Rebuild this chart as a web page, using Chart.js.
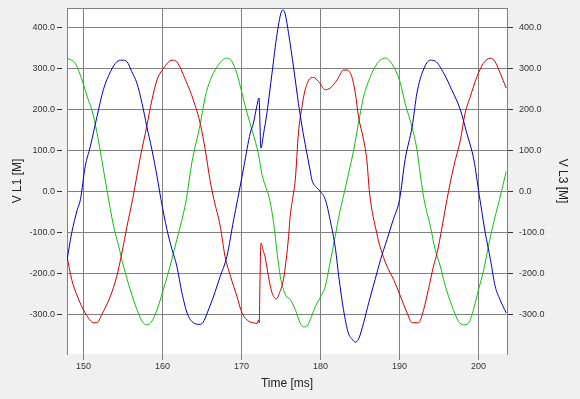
<!DOCTYPE html>
<html>
<head>
<meta charset="utf-8">
<script src="https://cdn.jsdelivr.net/npm/chart.js@4.4.1/dist/chart.umd.min.js"></script>
<style>
  html, body { margin: 0; padding: 0; background: #f0f0f0; }
  #wrap { width: 580px; height: 399px; }
</style>
</head>
<body>
<div id="wrap"><canvas id="scope" width="580" height="399"></canvas></div>
<script>
// Axis ranges and ticks
const timeRange = [147.9, 203.6];
const voltRange = [-395, 447];
const timeTicks = [150, 160, 170, 180, 190, 200];
const voltTicks = [-300, -200, -100, 0, 100, 200, 300, 400];

// Trace samples: [time ms, volts]
const traceBlue = [
  [147.9, -167], [148.5, -100], [149.2, -44], [149.6, -19], [150.2, 61], [150.85, 110],
  [151.7, 183], [152.5, 248], [153.4, 292], [154.2, 316], [154.85, 320], [155.5, 316],
  [156.1, 292], [156.75, 264], [157.4, 215], [158.0, 159], [158.65, 102], [159.3, 37],
  [159.8, -19], [160.55, -92], [161.2, -141], [161.8, -181], [162.45, -246], [163.1, -295],
  [163.9, -319], [164.8, -323], [166.0, -278], [167.3, -206], [168.15, -157], [169.0, -68],
  [169.5, -19], [170.3, 62], [171.1, 143], [171.5, 167], [171.95, 210], [172.2, 228],
  [172.45, 106], [172.8, 143], [173.2, 190], [173.85, 288], [174.5, 385], [175.1, 440],
  [175.3, 442], [175.55, 430], [175.95, 385], [176.6, 300], [177.2, 215], [177.65, 159],
  [178.2, 100], [178.6, 60], [178.9, 29], [179.5, 10], [180.0, 0], [180.6, -19],
  [181.2, -68], [181.9, -141], [182.3, -206], [182.9, -287], [183.5, -343], [184.0, -359],
  [184.4, -366], [184.8, -359], [185.45, -319], [186.1, -270], [186.9, -214], [187.6, -165],
  [188.4, -117], [189.2, -68], [190.0, -19], [190.7, 78], [191.6, 159], [192.2, 240],
  [193.0, 296], [193.9, 320], [194.5, 318], [195.6, 288], [196.6, 248], [197.7, 199],
  [198.5, 143], [199.4, 78], [200.1, -10], [200.85, -100], [201.5, -165], [202.1, -230],
  [202.7, -262], [203.5, -295]
];

const traceRed = [
  [147.9, -157], [148.5, -214], [149.2, -254], [150.2, -295], [151.3, -319], [151.7, -319],
  [152.3, -299], [153.4, -254], [154.2, -206], [154.85, -149], [155.5, -84], [156.2, -19],
  [157.2, 86], [158.0, 159], [158.65, 223], [159.3, 272], [160.1, 300], [161.2, 320],
  [161.8, 316], [162.9, 272], [163.9, 223], [164.8, 163], [165.4, 102], [166.0, 29],
  [166.5, -19], [167.3, -84], [167.9, -157], [168.6, -206], [169.4, -254], [170.05, -295],
  [170.9, -315], [171.5, -319], [171.95, -321], [172.15, -312], [172.25, -319], [172.3, -250],
  [172.46, -125], [172.7, -141], [173.0, -161], [173.4, -206], [173.85, -246], [174.4, -261],
  [174.8, -246], [175.3, -214], [175.65, -165], [175.95, -109], [176.15, -60], [176.45, -19],
  [176.8, 29], [177.2, 143], [177.65, 207], [178.05, 248], [178.7, 276], [179.1, 278],
  [179.75, 268], [180.6, 248], [181.2, 252], [182.1, 272], [182.9, 296], [183.35, 296],
  [183.95, 280], [184.4, 240], [184.8, 183], [185.45, 126], [185.85, 78], [186.2, -3],
  [187.1, -100], [187.55, -135], [188.4, -181], [189.25, -214], [190.1, -254], [190.95, -295],
  [191.6, -319], [192.4, -319], [193.05, -287], [193.65, -238], [194.3, -181], [194.75, -149],
  [195.4, -84], [196.0, -19], [196.85, 61], [197.7, 126], [198.3, 191], [198.95, 231],
  [199.8, 280], [200.6, 312], [201.5, 325], [202.1, 316], [202.75, 288], [203.5, 252]
];

const traceGreen = [
  [147.9, 325], [148.95, 312], [149.8, 272], [150.6, 223], [151.05, 199], [151.7, 143],
  [152.3, 78], [152.95, 5], [153.8, -84], [154.45, -133], [155.05, -181], [155.9, -238],
  [156.75, -287], [157.4, -315], [158.0, -324], [158.65, -315], [159.3, -287], [160.1, -238],
  [160.95, -181], [161.8, -117], [162.65, -52], [163.0, -19], [163.7, 70], [164.75, 163],
  [165.4, 231], [166.05, 272], [166.9, 304], [167.7, 322], [168.2, 325], [168.8, 316],
  [169.4, 288], [170.05, 240], [170.7, 191], [171.4, 145], [172.15, 90], [172.6, 40],
  [173.0, 15], [173.5, -15], [174.05, -75], [174.5, -149], [174.9, -206], [175.3, -238],
  [175.65, -254], [176.15, -262], [176.8, -287], [177.4, -319], [177.85, -329], [178.3, -327],
  [178.7, -311], [179.35, -279], [179.95, -258], [180.6, -230], [181.2, -173], [181.85, -109],
  [182.4, -52], [182.8, -19], [183.55, 45], [184.2, 102], [184.8, 167], [185.45, 231],
  [186.3, 280], [187.15, 312], [187.55, 320], [188.2, 325], [189.25, 304], [190.1, 264],
  [190.7, 215], [191.55, 159], [192.2, 102], [192.6, 45], [193.1, -19], [193.9, -84],
  [194.5, -141], [195.15, -181], [195.8, -230], [196.65, -279], [197.45, -315], [198.1, -324],
  [198.75, -319], [199.35, -287], [200.0, -238], [200.65, -190], [201.25, -133], [201.9, -76],
  [202.65, -19], [203.5, 49]
];

const FONT = 'Liberation Sans, Arial, sans-serif';
const GRID = '#808080';

// grey window + white plot area, top edge of the plot frame
const scopeFrame = {
  id: 'scopeFrame',
  beforeDraw(chart) {
    const { ctx, chartArea: a } = chart;
    ctx.save();
    ctx.fillStyle = '#f0f0f0';
    ctx.fillRect(0, 0, chart.width, chart.height);
    ctx.fillStyle = '#ffffff';
    ctx.fillRect(a.left, a.top, a.right - a.left, a.bottom - a.top);
    ctx.restore();
  },
  beforeDatasetsDraw(chart) {
    const { ctx, chartArea: a } = chart;
    ctx.save();
    ctx.strokeStyle = GRID;
    ctx.lineWidth = 1;
    ctx.beginPath();
    ctx.moveTo(a.left, a.top + 0.5);
    ctx.lineTo(a.right, a.top + 0.5);
    ctx.stroke();
    ctx.restore();
  }
};

const toPoints = arr => arr.map(p => ({ x: p[0], y: p[1] }));

const trace = (data, color) => ({
  data: toPoints(data),
  borderColor: color,
  borderWidth: 1,
  pointRadius: 0,
  fill: false,
  cubicInterpolationMode: 'monotone',
  yAxisID: 'y'
});

const yTicks = axis => { axis.ticks = voltTicks.map(v => ({ value: v })); };

// fixed axis sizes; drop the label overhang padding so the plot keeps its place
const fixWidth = w => axis => {
  axis.width = w;
  axis.paddingTop = 0;
  axis.paddingBottom = 0;
};

new Chart(document.getElementById('scope'), {
  type: 'line',
  data: {
    datasets: [
      trace(traceBlue, '#0000c0'),
      trace(traceRed, '#d00000'),
      trace(traceGreen, '#10c010')
    ]
  },
  options: {
    responsive: false,
    animation: false,
    devicePixelRatio: 1,
    layout: { padding: { top: 8, left: 0, right: 0, bottom: 0 } },
    plugins: { legend: { display: false }, tooltip: { enabled: false } },
    scales: {
      x: {
        type: 'linear',
        min: timeRange[0],
        max: timeRange[1],
        afterBuildTicks: axis => { axis.ticks = timeTicks.map(v => ({ value: v })); },
        afterFit: axis => { axis.height = 45; axis.paddingLeft = 0; axis.paddingRight = 0; },
        grid: { color: GRID, tickColor: GRID, tickLength: 6 },
        border: { display: false },
        ticks: {
          color: '#333', font: { size: 9, family: FONT }, padding: 1, maxRotation: 0,
          callback: v => String(v)
        },
        title: {
          display: true, text: 'Time [ms]', color: '#222',
          font: { size: 12, family: FONT }, padding: { top: 0, bottom: 8 }
        }
      },
      y: {
        position: 'left',
        min: voltRange[0],
        max: voltRange[1],
        afterBuildTicks: yTicks,
        afterFit: fixWidth(67),
        grid: { color: GRID, tickColor: '#333', tickLength: 10, tickBorderDash: [5, 20] },
        border: { color: GRID },
        ticks: { color: '#333', font: { size: 9, family: FONT }, padding: 2, callback: v => v.toFixed(1) },
        title: {
          display: true, text: 'V L1 [M]', color: '#222',
          font: { size: 12, family: FONT }, padding: { top: 10, bottom: 0 }
        }
      },
      y2: {
        position: 'right',
        min: voltRange[0],
        max: voltRange[1],
        afterBuildTicks: yTicks,
        afterFit: fixWidth(73),
        grid: { drawOnChartArea: false, tickColor: '#333', tickLength: 6 },
        border: { color: GRID },
        ticks: { color: '#333', font: { size: 9, family: FONT }, padding: 6, callback: v => v.toFixed(1) },
        title: {
          display: true, text: 'V L3 [M]', color: '#222',
          font: { size: 12, family: FONT }, padding: { top: 10, bottom: 0 }
        }
      }
    }
  },
  plugins: [scopeFrame]
});
</script>
</body>
</html>
